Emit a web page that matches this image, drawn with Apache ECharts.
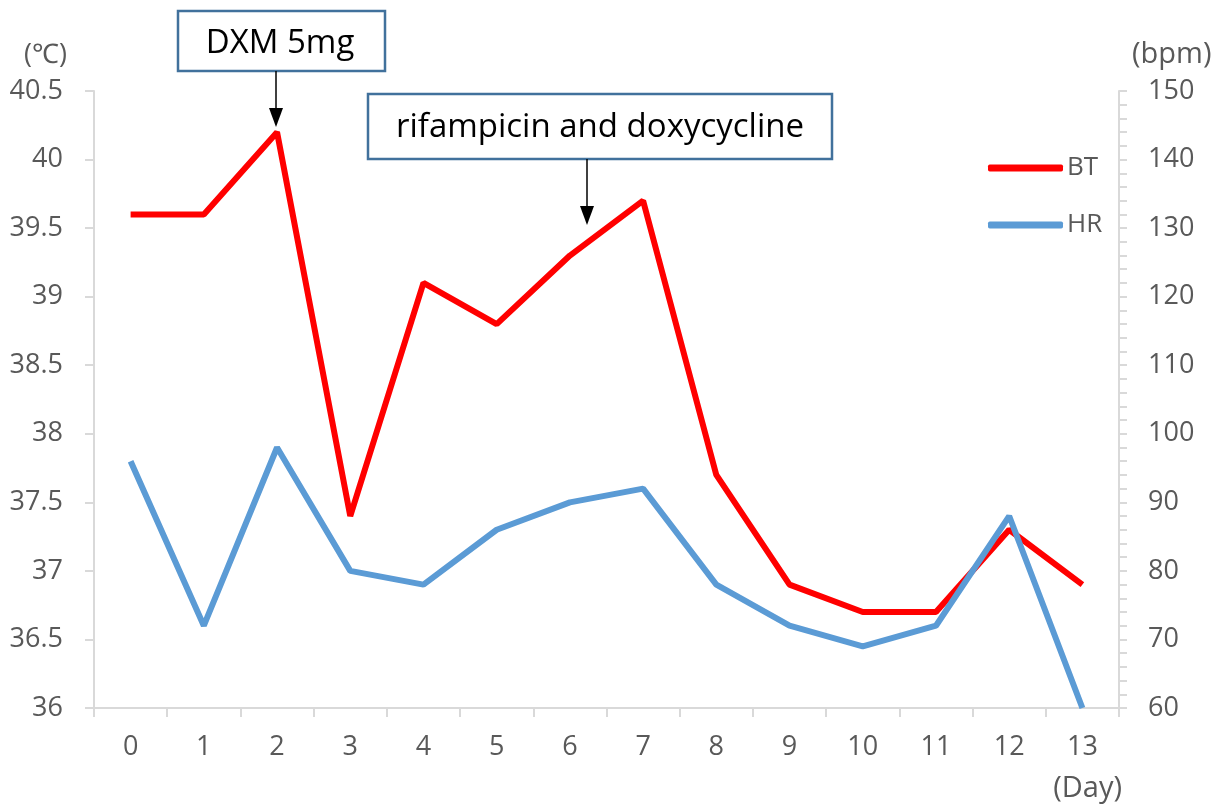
<!DOCTYPE html>
<html><head><meta charset="utf-8">
<script src="https://cdn.jsdelivr.net/npm/echarts@6/dist/echarts.min.js"></script>
<style>html,body{margin:0;padding:0;background:#fff}#c{width:1226px;height:808px}</style>
</head><body><div id="c"></div>
<script>
const days = ['0','1','2','3','4','5','6','7','8','9','10','11','12','13'];
const bt = [39.6,39.6,40.2,37.4,39.1,38.8,39.3,39.7,37.7,36.9,36.7,36.7,37.3,36.9];
const hr = [96,72,98,80,78,86,90,92,78,72,69,72,88,60];
const FONT = '"Open Sans", "Liberation Sans", sans-serif';
const LBL = '#595959';
const AX = '#D9D9D9';
const chart = echarts.init(document.getElementById('c'), null, {renderer:'canvas'});
chart.setOption({
  animation:false,
  textStyle:{fontFamily:FONT},
  grid:{left:94,right:107,top:91,bottom:100,containLabel:false},
  legend:{
    orient:'vertical', left:983, top:150, itemGap:31, itemWidth:75, itemHeight:7,
    icon:'roundRect',
    textStyle:{fontFamily:FONT,fontSize:26,color:LBL,padding:[0,0,0,-1]},
    data:['BT','HR']
  },
  xAxis:{
    type:'category', data:days, boundaryGap:true,
    name:'(Day)', nameLocation:'end', nameGap:0,
    nameTextStyle:{fontFamily:FONT,fontSize:29,color:LBL,align:'right',verticalAlign:'top',padding:[66,-3,0,0]},
    axisLine:{lineStyle:{color:AX,width:2}},
    axisTick:{show:true,alignWithLabel:false,length:9,lineStyle:{color:AX,width:2}},
    axisLabel:{fontFamily:FONT,fontSize:27,color:LBL,margin:26}
  },
  yAxis:[{
    type:'value', min:36, max:40.5, interval:0.5,
    name:'(\u2103)', nameGap:22, nameLocation:'end',
    nameTextStyle:{fontFamily:FONT,fontSize:27,color:LBL,align:'right',padding:[0,27,0,0]},
    axisLine:{show:true,lineStyle:{color:AX,width:2}},
    axisTick:{show:true,length:9,lineStyle:{color:AX,width:2}},
    splitLine:{show:false},
    axisLabel:{fontFamily:FONT,fontSize:27,color:LBL,margin:31}
  },{
    type:'value', min:60, max:150, interval:10, position:'right',
    name:'(bpm)', nameGap:22, nameLocation:'end',
    nameTextStyle:{fontFamily:FONT,fontSize:29,color:LBL,align:'left',padding:[0,0,0,13]},
    axisLine:{show:true,lineStyle:{color:AX,width:2}},
    axisTick:{show:true,length:8,lineStyle:{color:AX,width:2}},
    minorTick:{show:true,splitNumber:5,length:8,lineStyle:{color:AX,width:2}},
    splitLine:{show:false},
    axisLabel:{fontFamily:FONT,fontSize:27,color:LBL,margin:29}
  }],
  series:[{
    name:'BT', type:'line', yAxisIndex:0, data:bt, showSymbol:false, symbol:'none',
    lineStyle:{color:'#FF0000',width:6}, itemStyle:{color:'#FF0000'}, z:3
  },{
    name:'HR', type:'line', yAxisIndex:1, data:hr, showSymbol:false, symbol:'none',
    lineStyle:{color:'#5B9BD5',width:6}, itemStyle:{color:'#5B9BD5'}, z:4
  }],
  graphic:[
    {type:'rect', shape:{x:178,y:11,width:207,height:60}, style:{fill:'#fff',stroke:'#41719C',lineWidth:2.5}, z:10},
    {type:'text', x:280, y:44, style:{text:'DXM 5mg',fontFamily:FONT,fontSize:33,fill:'#000',align:'center',verticalAlign:'middle'}, z:11},
    {type:'line', shape:{x1:276,y1:71,x2:276,y2:112}, style:{stroke:'#000',lineWidth:1.5}, z:10},
    {type:'polygon', shape:{points:[[269,108],[283,108],[276,127]]}, style:{fill:'#000'}, z:10},
    {type:'rect', shape:{x:368,y:94,width:464,height:65}, style:{fill:'#fff',stroke:'#41719C',lineWidth:2.5}, z:10},
    {type:'text', x:600, y:128, style:{text:'rifampicin and doxycycline',fontFamily:FONT,fontSize:33,fill:'#000',align:'center',verticalAlign:'middle'}, z:11},
    {type:'line', shape:{x1:587,y1:159,x2:587,y2:210}, style:{stroke:'#000',lineWidth:1.5}, z:10},
    {type:'polygon', shape:{points:[[580,206],[594,206],[587,225]]}, style:{fill:'#000'}, z:10}
  ]
});
</script></body></html>
